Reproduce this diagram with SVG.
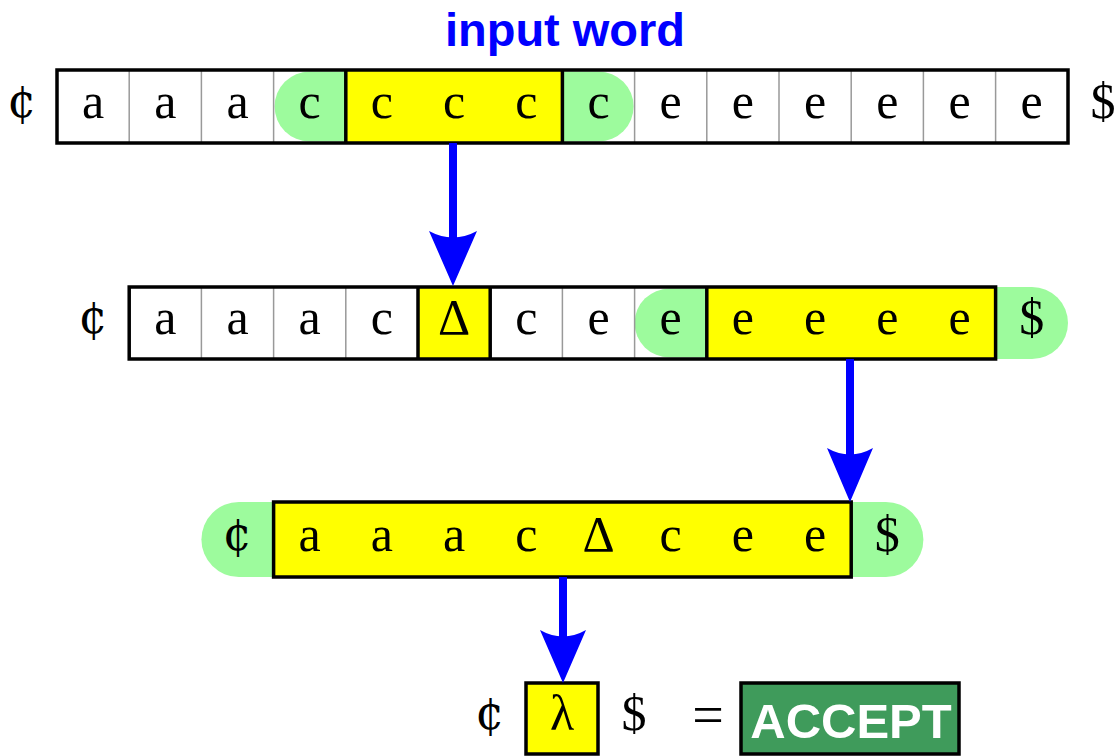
<svg xmlns="http://www.w3.org/2000/svg" width="1117" height="756" viewBox="0 0 1117 756">
  <style>
    .sym { font-family: "Liberation Serif", "DejaVu Serif", serif; font-size: 50px; fill: #000; text-anchor: middle; }
    .cent { font-family: "DejaVu Serif", "Liberation Serif", serif; font-size: 46px; fill: #000; text-anchor: middle; }
    .eq { font-family: "Liberation Serif", "DejaVu Serif", serif; font-size: 56px; fill: #000; text-anchor: middle; }
    .title { font-family: "Liberation Sans", Arial, sans-serif; font-weight: bold; font-size: 47px; fill: #0000ff; text-anchor: middle; }
    .accept { font-family: "Liberation Sans", Arial, sans-serif; font-weight: bold; font-size: 49px; fill: #fff; text-anchor: middle; }
    .cell { fill: #fff; }
    .hl { fill: #ffff00; }
    .mark { fill: #9dfb9d; }
    .thin { stroke: #999; stroke-width: 1.5; }
    .thick { stroke: #000; stroke-width: 3.5; }
    .frame { fill: none; stroke: #000; stroke-width: 3.5; }
    .arrow { fill: #0000ff; }
  </style>

  <rect width="1117" height="756" fill="#fff"/>

  <g id="title">
    <text class="title" x="565" y="46">input word</text>
  </g>

  <!-- tape 1: 14 cells starting at x=57, cell width 72.2 -->
  <g id="row1">
    <rect class="cell" x="57" y="70" width="1011" height="73"/>
    <path class="mark" d="M345.8,71.5 L309.6,71.5 A35,35 0 0 0 309.6,141.5 L345.8,141.5 Z"/>
    <rect class="hl" x="345.8" y="70" width="216.6" height="73"/>
    <path class="mark" d="M562.4,71.5 L598.6,71.5 A35,35 0 0 1 598.6,141.5 L562.4,141.5 Z"/>
    <g class="thin">
      <line x1="129.2" y1="70" x2="129.2" y2="143"/>
      <line x1="201.4" y1="70" x2="201.4" y2="143"/>
      <line x1="273.6" y1="70" x2="273.6" y2="143"/>
      <line x1="634.6" y1="70" x2="634.6" y2="143"/>
      <line x1="706.8" y1="70" x2="706.8" y2="143"/>
      <line x1="779" y1="70" x2="779" y2="143"/>
      <line x1="851.2" y1="70" x2="851.2" y2="143"/>
      <line x1="923.4" y1="70" x2="923.4" y2="143"/>
      <line x1="995.6" y1="70" x2="995.6" y2="143"/>
    </g>
    <g class="thick">
      <line x1="345.8" y1="70" x2="345.8" y2="143"/>
      <line x1="562.4" y1="70" x2="562.4" y2="143"/>
    </g>
    <rect class="frame" x="57" y="70" width="1011" height="73"/>
    <text class="cent" x="22" y="117">¢</text>
    <text class="sym" x="93.1" y="118">a</text>
    <text class="sym" x="165.3" y="118">a</text>
    <text class="sym" x="237.5" y="118">a</text>
    <text class="sym" x="309.7" y="118">c</text>
    <text class="sym" x="381.9" y="118">c</text>
    <text class="sym" x="454.1" y="118">c</text>
    <text class="sym" x="526.3" y="118">c</text>
    <text class="sym" x="598.5" y="118">c</text>
    <text class="sym" x="670.7" y="118">e</text>
    <text class="sym" x="742.9" y="118">e</text>
    <text class="sym" x="815.1" y="118">e</text>
    <text class="sym" x="887.3" y="118">e</text>
    <text class="sym" x="959.5" y="118">e</text>
    <text class="sym" x="1031.7" y="118">e</text>
    <text class="sym" x="1103" y="118">$</text>
  </g>

  <!-- tape 2: 12 cells from x=129.2 -->
  <g id="row2">
    <rect class="cell" x="129.2" y="287" width="866.4" height="72"/>
    <rect class="hl" x="418" y="287" width="72.2" height="72"/>
    <path class="mark" d="M706.8,288.5 L669.6,288.5 A35,34.5 0 0 0 669.6,357.5 L706.8,357.5 Z"/>
    <rect class="hl" x="706.8" y="287" width="288.8" height="72"/>
    <path class="mark" d="M995.6,287 L1032,287 A36,36 0 0 1 1032,359 L995.6,359 Z"/>
    <g class="thin">
      <line x1="201.4" y1="287" x2="201.4" y2="359"/>
      <line x1="273.6" y1="287" x2="273.6" y2="359"/>
      <line x1="345.8" y1="287" x2="345.8" y2="359"/>
      <line x1="562.4" y1="287" x2="562.4" y2="359"/>
      <line x1="634.6" y1="287" x2="634.6" y2="359"/>
    </g>
    <g class="thick">
      <line x1="418" y1="287" x2="418" y2="359"/>
      <line x1="490.2" y1="287" x2="490.2" y2="359"/>
      <line x1="706.8" y1="287" x2="706.8" y2="359"/>
    </g>
    <rect class="frame" x="129.2" y="287" width="866.4" height="72"/>
    <text class="cent" x="93.1" y="333">¢</text>
    <text class="sym" x="165.3" y="334">a</text>
    <text class="sym" x="237.5" y="334">a</text>
    <text class="sym" x="309.7" y="334">a</text>
    <text class="sym" x="381.9" y="334">c</text>
    <text class="sym" x="454.1" y="334">Δ</text>
    <text class="sym" x="526.3" y="334">c</text>
    <text class="sym" x="598.5" y="334">e</text>
    <text class="sym" x="670.7" y="334">e</text>
    <text class="sym" x="742.9" y="334">e</text>
    <text class="sym" x="815.1" y="334">e</text>
    <text class="sym" x="887.3" y="334">e</text>
    <text class="sym" x="959.5" y="334">e</text>
    <text class="sym" x="1031.7" y="334">$</text>
  </g>

  <!-- tape 3: one highlighted block between green end markers -->
  <g id="row3">
    <rect class="mark" x="201.4" y="502" width="722" height="75" rx="37.5"/>
    <rect class="hl" x="273.6" y="502" width="577.6" height="75"/>
    <rect class="frame" x="273.6" y="502" width="577.6" height="75"/>
    <text class="cent" x="237.5" y="550">¢</text>
    <text class="sym" x="309.7" y="551">a</text>
    <text class="sym" x="381.9" y="551">a</text>
    <text class="sym" x="454.1" y="551">a</text>
    <text class="sym" x="526.3" y="551">c</text>
    <text class="sym" x="598.5" y="551">Δ</text>
    <text class="sym" x="670.7" y="551">c</text>
    <text class="sym" x="742.9" y="551">e</text>
    <text class="sym" x="815.1" y="551">e</text>
    <text class="sym" x="887.3" y="551">$</text>
  </g>

  <g id="result">
    <text class="cent" x="490" y="729">¢</text>
    <rect class="hl" x="526" y="683" width="72" height="71"/>
    <rect class="frame" x="526" y="683" width="72" height="71"/>
    <text class="sym" x="562" y="730">λ</text>
    <text class="sym" x="634" y="730">$</text>
    <text class="eq" x="708" y="734">=</text>
  </g>

  <g id="accept">
    <rect x="741" y="683" width="218" height="71" fill="#3f9b5b" stroke="#000" stroke-width="3.5"/>
    <text class="accept" x="851" y="738">ACCEPT</text>
  </g>

  <g id="connectors">
    <rect class="arrow" x="449" y="143" width="8" height="96"/>
    <path class="arrow" d="M429,231 Q453,244 477,231 L453,286 Z"/>
    <rect class="arrow" x="846" y="359" width="8" height="96"/>
    <path class="arrow" d="M827,448 Q850,461 873,448 L850,502 Z"/>
    <rect class="arrow" x="559" y="577" width="8" height="62"/>
    <path class="arrow" d="M540,630 Q563,643 586,630 L563,683 Z"/>
  </g>
</svg>
